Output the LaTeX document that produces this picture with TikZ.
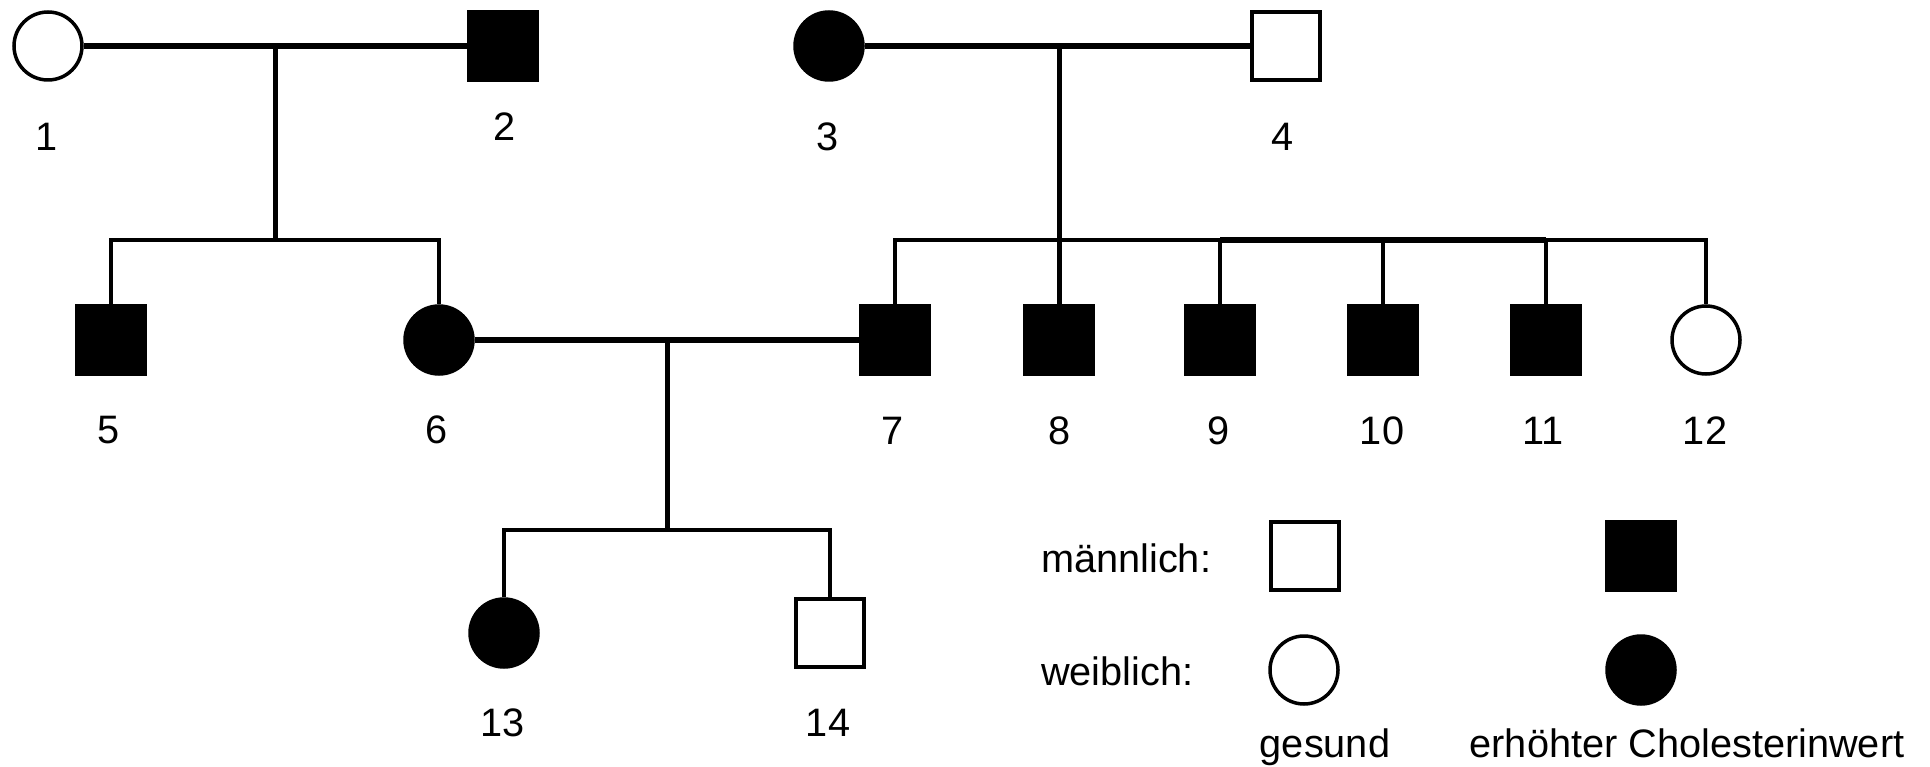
\documentclass[tikz,border=0pt]{standalone}
\usepackage{fontspec}
\setmainfont{Liberation Sans}
\tikzset{
    person/.style={draw=black, inner sep=0pt, minimum size=68pt, line width=4pt},
    male/.style={person, rectangle},
    female/.style={person, circle, line width=3.5pt},
    healthy/.style={fill=white},
    ill/.style={fill=black},
    num/.style={inner sep=0pt, font=\fontsize{39.7}{48}\selectfont},
    marriage/.style={line width=6pt},
    descent/.style={line width=5pt},
    sibship/.style={line width=4pt}
}
\begin{document}
\begin{tikzpicture}[x=1pt, y=-1pt]
                \useasboundingbox (0,0) rectangle (1930,767);

                %Nodes
                \node[female,healthy] at (48,46) (P1) {};
                \node[male,ill] at (503,46) (P2) {};
                \node[female,ill] at (829,46) (P3) {};
                \node[male,healthy] at (1286,46) (P4) {};
                \node[male,ill] at (111,340) (P5) {};
                \node[female,ill] at (439,340) (P6) {};
                \node[male,ill] at (895,340) (P7) {};
                \node[male,ill] at (1059,340) (P8) {};
                \node[male,ill] at (1220,340) (P9) {};
                \node[male,ill] at (1383,340) (P10) {};
                \node[male,ill] at (1546,340) (P11) {};
                \node[female,healthy] at (1706,340) (P12) {};
                \node[female,ill] at (504,633) (P13) {};
                \node[male,healthy] at (830,633) (P14) {};

                %Numbers
                \node[num] at (47,137) (N1) {1};
                \node[num] at (505,127) (N2) {2};
                \node[num] at (828,137) (N3) {3};
                \node[num] at (1283,137) (N4) {4};
                \node[num] at (109,430) (N5) {5};
                \node[num] at (437,430) (N6) {6};
                \node[num] at (893,431) (N7) {7};
                \node[num] at (1060,431) (N8) {8};
                \node[num] at (1219,431) (N9) {9};
                \node[num] at (1382,431) (N10) {10};
                \node[num] at (1543,431) (N11) {11};
                \node[num] at (1705,431) (N12) {12};
                \node[num] at (503,723) (N13) {13};
                \node[num] at (828,723) (N14) {14};

                %Couples and sibships
                \coordinate (M12) at (275,46);
                \coordinate (S12) at (275,240);
                \coordinate (M34) at (1059,46);
                \coordinate (S34) at (1059,240);
                \coordinate (M67) at (667,337);
                \coordinate (S67) at (667,530);

                %Lines
                \draw[marriage] (P1) -- (P2);
                \draw[marriage] (P3) -- (P4);
                \draw[marriage] (P6) -- (P7);
                \draw[descent] (M12) -- (S12);
                \draw[descent] (M34) -- (P8.north);
                \draw[descent] (M67) -- (S67);
                \draw[sibship] (P5.north) |- (S12) -| (P6.north);
                \draw[sibship] (P7.north) |- (S34) -| (P12.north);
                \draw[sibship] (P9.north) -- (P9.north |- S34);
                \draw[sibship] (P10.north) -- (P10.north |- S34);
                \draw[sibship] (P11.north) -- (P11.north |- S34);
                \draw[marriage] (P9.north |- S34) -- (P11.north |- S34);
                \draw[sibship] (P13.north) |- (S67) -| (P14.north);

                %Legend
                \node[num, anchor=base west] at (1041,572) (LM) {männlich:};
                \node[num, anchor=base west] at (1041,685) (LW) {weiblich:};
                \node[male,healthy] at (1305,556) (LMH) {};
                \node[male,ill] at (1641,556) (LMI) {};
                \node[female,healthy] at (1304,670) (LWH) {};
                \node[female,ill] at (1641,670) (LWI) {};
                \node[num, anchor=base] at (1325,757) (LH) {gesund};
                \node[num, anchor=base] at (1687,757) (LI) {erhöhter Cholesterinwert};
            \end{tikzpicture}
\end{document}
